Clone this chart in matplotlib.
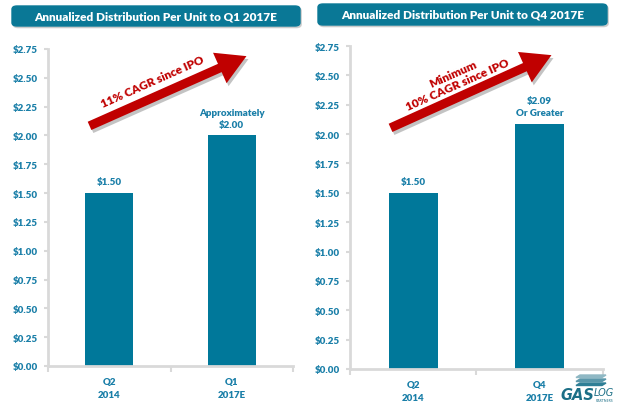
import matplotlib
matplotlib.use("Agg")
import matplotlib.pyplot as plt
from matplotlib.patches import FancyBboxPatch, Polygon

plt.rcParams['font.family'] = ['Lato', 'DejaVu Sans']

# ---- data ----
titles = ["Annualized Distribution Per Unit to Q1 2017E",
          "Annualized Distribution Per Unit to Q4 2017E"]
categories_left = ["Q2\n2014", "Q1\n2017E"]
categories_right = ["Q2\n2014", "Q4\n2017E"]
values_left = [1.50, 2.00]
values_right = [1.50, 2.09]
labels_left = ["$1.50", "Approximately\n$2.00"]
labels_right = ["$1.50", "$2.09\nOr Greater"]
yticks = [0.00, 0.25, 0.50, 0.75, 1.00, 1.25, 1.50, 1.75, 2.00, 2.25, 2.50, 2.75]
arrow_texts = ["11% CAGR since IPO", "Minimum\n10% CAGR since IPO"]

BAR = "#00789a"
TXT = "#1a7fa8"
RED = "#c00000"
GRID = "#d9d9d9"
WT = 'heavy'

W, H = 629, 410
fig = plt.figure(figsize=(W / 100, H / 100), dpi=100)

def fbox(x0, y0, x1, y1):
    return [x0 / W, 1 - y1 / H, (x1 - x0) / W, (y1 - y0) / H]

ax1 = fig.add_axes(fbox(48, 50, 293, 367))
ax2 = fig.add_axes(fbox(350, 47, 603, 370))

def style(ax, cats, vals, labs):
    x = list(range(len(cats)))
    ax.bar(x, vals, width=0.39, color=BAR, zorder=2)
    ax.set_xlim(-0.5, len(cats) - 0.5)
    ax.set_ylim(0, 2.75)
    ax.set_yticks(yticks)
    ax.set_yticklabels([f"${v:.2f}" for v in yticks], color=TXT,
                       fontsize=7, fontweight=WT)
    ax.set_xticks(x)
    ax.set_xticklabels(cats, color=TXT, fontsize=7, fontweight=WT,
                       linespacing=1.6)
    ax.tick_params(axis='x', length=0, pad=8)
    ax.set_xticks([i - 0.5 for i in range(len(cats) + 1)], minor=True)
    ax.tick_params(axis='x', which='minor', length=4, width=1.5, color=GRID)
    ax.tick_params(axis='y', length=3, width=1.5, color=GRID, pad=4)
    for s in ['top', 'right']:
        ax.spines[s].set_visible(False)
    for s in ['left', 'bottom']:
        ax.spines[s].set_color(GRID)
        ax.spines[s].set_linewidth(2)
    for xi, v, lab in zip(x, vals, labs):
        ax.annotate(lab, (xi, v), xytext=(0, 5), textcoords='offset points',
                    ha='center', va='bottom', color=TXT, fontsize=7,
                    fontweight=WT, linespacing=1.3)

style(ax1, categories_left, values_left, labels_left)
style(ax2, categories_right, values_right, labels_right)

# ---- header bars ----
for (x0, y0, x1, y1), t in zip([(12, 7, 300, 27), (318, 5, 607, 26)], titles):
    sh = FancyBboxPatch((x0 / W + 0.002, 1 - y1 / H - 0.004), (x1 - x0) / W, (y1 - y0) / H,
                        boxstyle="round,pad=0,rounding_size=0.008",
                        transform=fig.transFigure, color="#bbbbbb", alpha=0.6, zorder=1)
    fig.patches.append(sh)
    b = FancyBboxPatch((x0 / W, 1 - y1 / H), (x1 - x0) / W, (y1 - y0) / H,
                       boxstyle="round,pad=0,rounding_size=0.008",
                       transform=fig.transFigure, color="#0a7896", zorder=2)
    fig.patches.append(b)
    fig.text((x0 + x1) / 2 / W, 1 - (y0 + y1) / 2 / H, t, color='white',
             ha='center', va='center', fontsize=8.5, fontweight=WT, zorder=3)

# ---- arrows (pixel coords in figure) ----
def px(x, y):
    return (x / W, 1 - y / H)

arrows = [((87, 128), (249, 56)), ((388, 130), (554, 55))]
for (s, e) in arrows:
    for off, col, a, z in [((2, 3), "#888888", 0.5, 4), ((0, 0), RED, 1.0, 5)]:
        fig.add_artist(matplotlib.patches.FancyArrowPatch(
            px(s[0] + off[0], s[1] + off[1]), px(e[0] + off[0], e[1] + off[1]),
            transform=fig.transFigure,
            arrowstyle="simple,head_width=2.4,head_length=2.1,tail_width=0.65",
            mutation_scale=10, color=col, alpha=a, zorder=z, lw=0))

fig.text(*px(153, 82), arrow_texts[0], rotation=24, rotation_mode='anchor',
         ha='center', va='center', color=RED, fontsize=8.5, fontweight=WT)
fig.text(*px(455, 80), arrow_texts[1], rotation=24, rotation_mode='anchor',
         ha='center', va='center', color=RED, fontsize=8.5, fontweight=WT,
         linespacing=1.1)

# ---- logo ----
for i, col in enumerate(["#8fb8c4", "#5a97aa", "#2f7f96"]):
    y = 376 + i * 4
    poly = Polygon([px(580, y), px(606, y), px(602, y + 2.5), px(576, y + 2.5)],
                   closed=True, transform=fig.transFigure, color=col, zorder=6)
    fig.patches.append(poly)
fig.text(*px(560, 400), "GAS", color="#1c6f86", fontsize=10.5, fontweight='bold',
         style='italic', ha='left', va='baseline', family=['DejaVu Sans'])
fig.text(*px(594, 396), "LOG", color="#1c6f86", fontsize=7, style='italic',
         ha='left', va='baseline', family=['DejaVu Sans'])
fig.text(*px(596, 402), "PARTNERS", color="#1c6f86", fontsize=2.5,
         ha='left', va='baseline')

fig.savefig("out.png", dpi=100)
